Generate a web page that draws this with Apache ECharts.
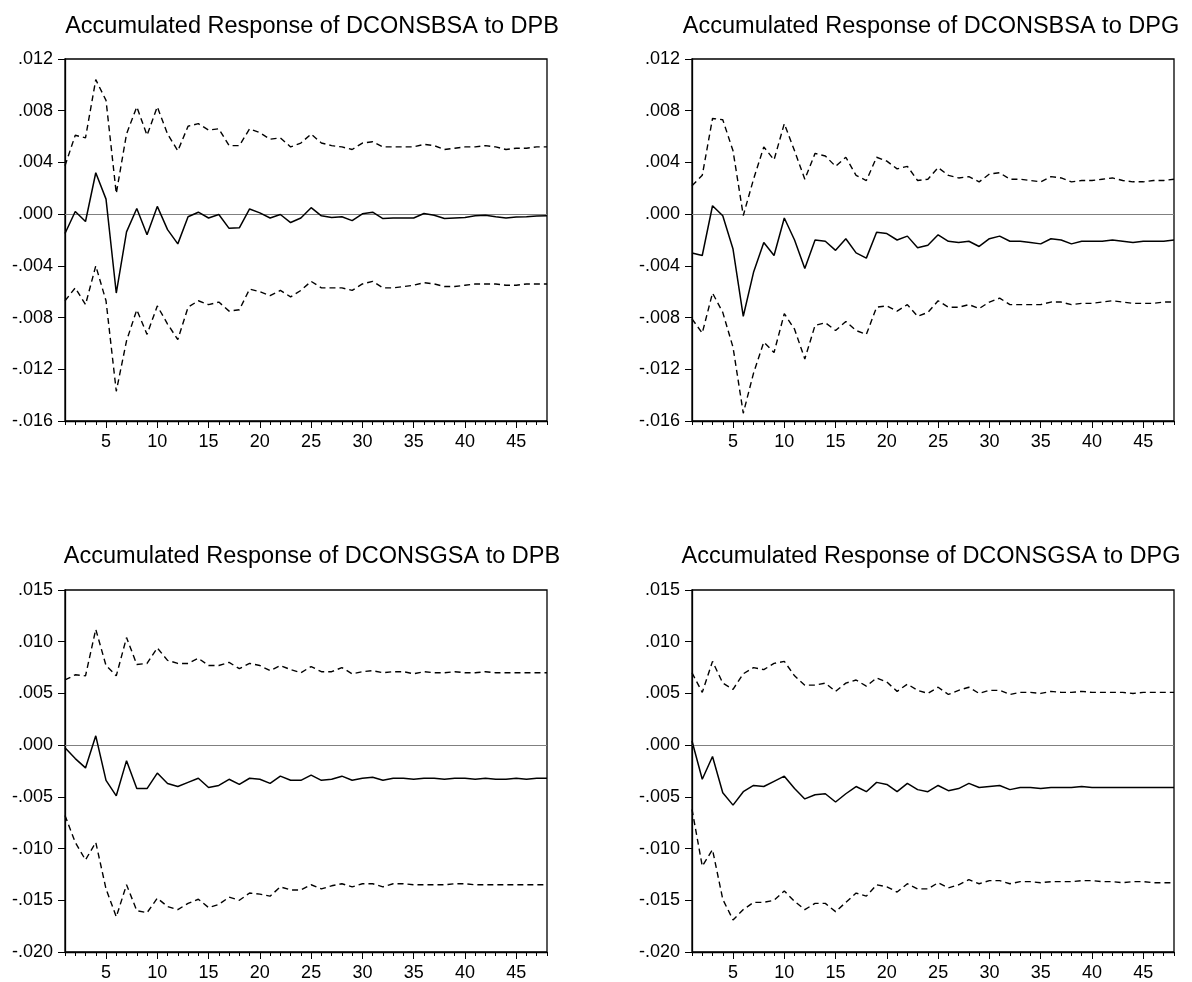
<!DOCTYPE html>
<html>
<head>
<meta charset="utf-8">
<script src="https://cdn.jsdelivr.net/npm/echarts@6/dist/echarts.min.js"></script>
<style>
html,body{margin:0;padding:0;background:#fff;}
#chart{width:1192px;height:982px;}
</style>
</head>
<body>
<div id="chart"></div>
<script>
// Periods 1..48
const periods = Array.from({length: 48}, (_, i) => i + 1);
const xTickValues = [5, 10, 15, 20, 25, 30, 35, 40, 45];

const titles = [
  'Accumulated Response of DCONSBSA to DPB',
  'Accumulated Response of DCONSBSA to DPG',
  'Accumulated Response of DCONSGSA to DPB',
  'Accumulated Response of DCONSGSA to DPG'
];

// Panel 1: DCONSBSA to DPB
const resp1 = [-0.0015,0.0002,-0.00057,0.0032,0.00116,-0.0061,-0.00137,0.00044,-0.0016,0.0006,
  -0.0012,-0.0023,-0.0002,0.00015,-0.0003,-0.00003,-0.0011,-0.00106,0.0004,0.0001,
  -0.0003,-0.00003,-0.00065,-0.0003,0.0005,-0.00013,-0.00026,-0.0002,-0.0005,0.00003,
  0.00015,-0.00034,-0.0003,-0.0003,-0.0003,0.00005,-0.00008,-0.00034,-0.0003,-0.00026,
  -0.00013,-0.00008,-0.0002,-0.0003,-0.00023,-0.0002,-0.00015,-0.00013];
const upper1 = [0.00374,0.0061,0.0059,0.0104,0.0088,0.0016,0.0062,0.0083,0.0061,0.0083,
  0.0062,0.0049,0.0068,0.0070,0.0065,0.0066,0.0053,0.0053,0.0066,0.0063,
  0.0058,0.0059,0.0052,0.0055,0.0062,0.0055,0.0053,0.0052,0.0050,0.0055,
  0.0056,0.0052,0.0052,0.0052,0.0052,0.0054,0.0053,0.0050,0.0051,0.0052,
  0.0052,0.0053,0.0052,0.0050,0.0051,0.0051,0.0052,0.0052];
const lower1 = [-0.0067,-0.0057,-0.0070,-0.0040,-0.0067,-0.0137,-0.0098,-0.0074,-0.0093,-0.0071,
  -0.0085,-0.0097,-0.0072,-0.0067,-0.0070,-0.0068,-0.0075,-0.0074,-0.0058,-0.0060,
  -0.0063,-0.0059,-0.0064,-0.0059,-0.0052,-0.0057,-0.0057,-0.0057,-0.0059,-0.0054,
  -0.0052,-0.0057,-0.0057,-0.0056,-0.0055,-0.0053,-0.0054,-0.0056,-0.0056,-0.0055,
  -0.0054,-0.0054,-0.0054,-0.0055,-0.0055,-0.0054,-0.0054,-0.0054];

// Panel 2: DCONSBSA to DPG
const resp2 = [-0.0030,-0.0032,0.00065,-0.00013,-0.0027,-0.0079,-0.0045,-0.0022,-0.0032,-0.0003,
  -0.0020,-0.0042,-0.0020,-0.0021,-0.0028,-0.0019,-0.0030,-0.0034,-0.0014,-0.0015,
  -0.0020,-0.0017,-0.0026,-0.0024,-0.0016,-0.0021,-0.0022,-0.0021,-0.0025,-0.0019,
  -0.0017,-0.0021,-0.0021,-0.0022,-0.0023,-0.0019,-0.0020,-0.0023,-0.0021,-0.0021,
  -0.0021,-0.0020,-0.0021,-0.0022,-0.0021,-0.0021,-0.0021,-0.0020];
const upper2 = [0.0022,0.0030,0.0074,0.0073,0.0049,-0.0001,0.0027,0.0052,0.0042,0.0070,
  0.0049,0.0027,0.0047,0.0045,0.0037,0.0044,0.0030,0.0026,0.0044,0.0041,
  0.0035,0.0037,0.0026,0.0027,0.0036,0.0030,0.0028,0.0029,0.0025,0.0031,
  0.0032,0.0027,0.0027,0.0026,0.0025,0.0029,0.0028,0.0025,0.0026,0.0026,
  0.0027,0.0028,0.0026,0.0025,0.0025,0.0026,0.0026,0.0027];
const lower2 = [-0.0081,-0.0092,-0.0061,-0.0076,-0.0103,-0.0154,-0.0123,-0.0099,-0.0107,-0.0077,
  -0.0089,-0.0112,-0.0086,-0.0084,-0.0090,-0.0083,-0.0090,-0.0093,-0.0072,-0.0071,
  -0.0075,-0.0070,-0.0079,-0.0076,-0.0067,-0.0072,-0.0072,-0.0070,-0.0073,-0.0068,
  -0.0065,-0.0070,-0.0070,-0.0070,-0.0070,-0.0068,-0.0068,-0.0070,-0.0069,-0.0069,
  -0.0068,-0.0067,-0.0068,-0.0069,-0.0069,-0.0069,-0.0068,-0.0068];

// Panel 3: DCONSGSA to DPB
const resp3 = [-0.00026,-0.0013,-0.0022,0.0009,-0.0034,-0.0049,-0.0015,-0.0042,-0.0042,-0.0027,
  -0.0037,-0.0040,-0.0036,-0.0032,-0.0041,-0.0039,-0.0033,-0.0038,-0.0032,-0.0033,
  -0.0037,-0.0030,-0.0034,-0.0034,-0.0029,-0.0034,-0.0033,-0.0030,-0.0034,-0.0032,
  -0.0031,-0.0034,-0.0032,-0.0032,-0.0033,-0.0032,-0.0032,-0.0033,-0.0032,-0.0032,
  -0.0033,-0.0032,-0.0033,-0.0033,-0.0032,-0.0033,-0.0032,-0.0032];
const upper3 = [0.0063,0.0068,0.0067,0.0112,0.0077,0.0067,0.0104,0.0078,0.0079,0.0094,
  0.0082,0.0079,0.0079,0.0084,0.0077,0.0077,0.0080,0.0074,0.0079,0.0077,
  0.0072,0.0077,0.0073,0.0070,0.0076,0.0071,0.0071,0.0075,0.0069,0.0071,
  0.0072,0.0070,0.0071,0.0071,0.0069,0.0071,0.0070,0.0070,0.0071,0.0070,
  0.0070,0.0071,0.0070,0.0070,0.0070,0.0070,0.0070,0.0070];
const lower3 = [-0.0068,-0.0094,-0.0111,-0.0094,-0.0139,-0.0166,-0.0135,-0.0160,-0.0162,-0.0148,
  -0.0156,-0.0159,-0.0153,-0.0149,-0.0157,-0.0154,-0.0147,-0.0150,-0.0143,-0.0144,
  -0.0146,-0.0137,-0.0140,-0.0140,-0.0135,-0.0139,-0.0136,-0.0134,-0.0137,-0.0134,
  -0.0134,-0.0137,-0.0134,-0.0134,-0.0135,-0.0135,-0.0135,-0.0135,-0.0134,-0.0134,
  -0.0135,-0.0135,-0.0135,-0.0135,-0.0135,-0.0135,-0.0135,-0.0135];

// Panel 4: DCONSGSA to DPG
const resp4 = [0.0004,-0.0033,-0.0011,-0.0046,-0.0058,-0.0045,-0.0039,-0.0040,-0.0035,-0.0030,
  -0.0042,-0.0052,-0.0048,-0.0047,-0.0055,-0.0047,-0.0040,-0.0045,-0.0036,-0.0038,
  -0.0045,-0.0037,-0.0043,-0.0045,-0.0039,-0.0044,-0.0042,-0.0037,-0.0041,-0.0040,
  -0.0039,-0.0043,-0.0041,-0.0041,-0.0042,-0.0041,-0.0041,-0.0041,-0.0040,-0.0041,
  -0.0041,-0.0041,-0.0041,-0.0041,-0.0041,-0.0041,-0.0041,-0.0041];
const upper4 = [0.0070,0.0051,0.0081,0.0060,0.0054,0.0069,0.0075,0.0073,0.0079,0.0081,
  0.0067,0.0058,0.0058,0.0060,0.0052,0.0060,0.0063,0.0057,0.0065,0.0061,
  0.0052,0.0059,0.0053,0.0050,0.0056,0.0049,0.0053,0.0056,0.0050,0.0053,
  0.0053,0.0049,0.0051,0.0051,0.0050,0.0052,0.0051,0.0051,0.0052,0.0051,
  0.0051,0.0051,0.0051,0.0050,0.0051,0.0051,0.0051,0.0051];
const lower4 = [-0.0062,-0.0117,-0.0101,-0.0149,-0.0169,-0.0159,-0.0152,-0.0152,-0.0150,-0.0141,
  -0.0151,-0.0159,-0.0153,-0.0153,-0.0161,-0.0152,-0.0143,-0.0146,-0.0135,-0.0137,
  -0.0142,-0.0134,-0.0139,-0.0139,-0.0133,-0.0138,-0.0135,-0.0130,-0.0134,-0.0131,
  -0.0131,-0.0134,-0.0132,-0.0132,-0.0133,-0.0132,-0.0132,-0.0132,-0.0131,-0.0131,
  -0.0132,-0.0132,-0.0133,-0.0132,-0.0132,-0.0133,-0.0133,-0.0133];

// Y-axis settings per panel
const yMin = [-0.016, -0.016, -0.020, -0.020];
const yMax = [0.012, 0.012, 0.015, 0.015];
const yStep = [0.004, 0.004, 0.005, 0.005];

const panels = [
  {resp: resp1, up: upper1, lo: lower1},
  {resp: resp2, up: upper2, lo: lower2},
  {resp: resp3, up: upper3, lo: lower3},
  {resp: resp4, up: upper4, lo: lower4}
];

// Layout (pixels)
const grids = [
  {left: 65, top: 59, width: 482, height: 362},
  {left: 692, top: 59, width: 482, height: 362},
  {left: 65, top: 590, width: 482, height: 363},
  {left: 692, top: 590, width: 482, height: 363}
];
const titleCenters = [307, 926, 307, 926];
const titleTops = [10, 10, 540, 540];

const FONT = '"Liberation Sans", Arial, Helvetica, sans-serif';

function fmtY(v) {
  const r = Math.round(v * 1000) / 1000;
  let s = Math.abs(r).toFixed(3).replace(/^0/, '');
  return (r < 0 ? '-' : '') + s;
}

const option = {
  animation: false,
  backgroundColor: '#ffffff',
  title: [], grid: [], xAxis: [], yAxis: [], series: []
};

panels.forEach((p, i) => {
  const g = grids[i];
  option.grid.push({
    left: g.left, top: g.top, width: g.width, height: g.height,
    show: true, borderColor: '#000', borderWidth: 1.3, backgroundColor: '#fff'
  });
  option.title.push({
    text: titles[i],
    left: titleCenters[i],
    top: titleTops[i],
    textAlign: 'center',
    textStyle: {fontFamily: FONT, fontSize: 23.5, fontWeight: 'normal', color: '#000'}
  });
  // main x axis with minor ticks at every period and labels every 5
  option.xAxis.push({
    type: 'value', gridIndex: i, min: 1, max: 48, position: 'bottom',
    axisLine: {show: true, onZero: false, lineStyle: {color: '#000', width: 1.3}},
    axisTick: {show: true, customValues: periods, length: 4, lineStyle: {color: '#000', width: 1}},
    axisLabel: {show: true, customValues: xTickValues, margin: 12,
      fontFamily: FONT, fontSize: 18, color: '#000'},
    splitLine: {show: false}
  });
  // second x axis for the longer major ticks
  option.xAxis.push({
    type: 'value', gridIndex: i, min: 1, max: 48, position: 'bottom',
    axisLine: {show: false, onZero: false},
    axisTick: {show: true, customValues: xTickValues, length: 7, lineStyle: {color: '#000', width: 1}},
    axisLabel: {show: false},
    splitLine: {show: false}
  });
  option.yAxis.push({
    type: 'value', gridIndex: i, min: yMin[i], max: yMax[i], interval: yStep[i],
    axisLine: {show: true, onZero: false, lineStyle: {color: '#000', width: 1.3}},
    axisTick: {show: true, length: 7, lineStyle: {color: '#000', width: 1}},
    axisLabel: {margin: 12, fontFamily: FONT, fontSize: 18, color: '#000', formatter: fmtY},
    splitLine: {show: false}
  });
  const toPairs = arr => periods.map((x, k) => [x, arr[k]]);
  const xi = i * 2;
  option.series.push({
    type: 'line', xAxisIndex: xi, yAxisIndex: i, data: toPairs(p.up),
    symbol: 'none', silent: true, z: 3,
    lineStyle: {color: '#000', width: 1.4, type: [6, 4]},
    markLine: {
      silent: true, symbol: 'none', label: {show: false},
      lineStyle: {color: '#808080', width: 1.2, type: 'solid'},
      data: [{yAxis: 0}], z: 1
    }
  });
  option.series.push({
    type: 'line', xAxisIndex: xi, yAxisIndex: i, data: toPairs(p.resp),
    symbol: 'none', silent: true, z: 4,
    lineStyle: {color: '#000', width: 1.5, type: 'solid'}
  });
  option.series.push({
    type: 'line', xAxisIndex: xi, yAxisIndex: i, data: toPairs(p.lo),
    symbol: 'none', silent: true, z: 3,
    lineStyle: {color: '#000', width: 1.4, type: [6, 4]}
  });
});

const chart = echarts.init(document.getElementById('chart'), null, {renderer: 'canvas'});
chart.setOption(option);
</script>
</body>
</html>
